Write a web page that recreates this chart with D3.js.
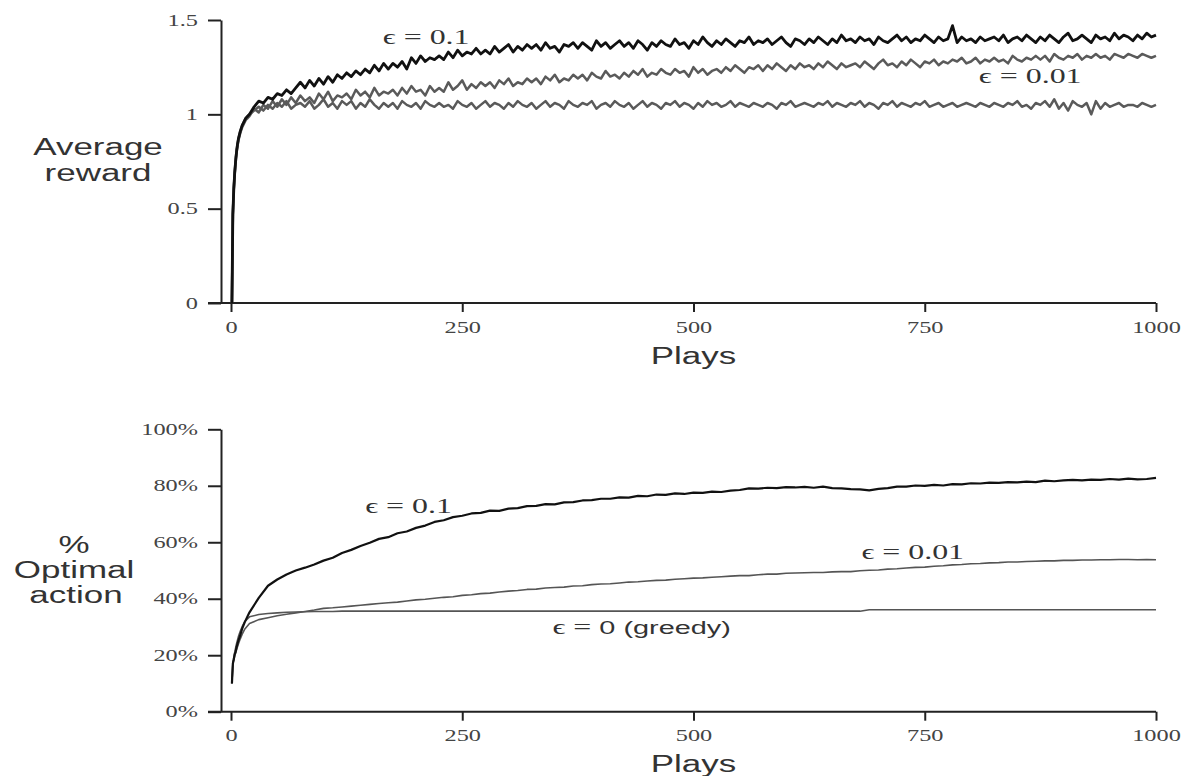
<!DOCTYPE html>
<html>
<head>
<meta charset="utf-8">
<script src="https://cdn.jsdelivr.net/npm/d3@7"></script>
<style>
  body { margin: 0; background: #fff; }
  svg { display: block; }
  .tick line { stroke: #222; stroke-width: 2px; }
  .domain { stroke: #222; stroke-width: 2px; }
  .axis-name { font-family: 'Liberation Sans', Arial, sans-serif; font-size: 23px; fill: #333; }
  .eps { font-family: 'Liberation Serif', 'DejaVu Serif', serif; font-size: 21px; fill: #333; }
  .eps-sans { font-family: 'Liberation Sans', Arial, sans-serif; font-size: 19px; fill: #333; }
</style>
</head>
<body>
<div id="chart"></div>
<script>
// Bandit figure: average reward and % optimal action vs plays

// the original figure is stretched sideways, so its text is wide too
const SX = 1.52;

// Data
const playTicks = [0, 250, 500, 750, 1000];
const rewardTicks = [0, 0.5, 1, 1.5];
const optimalTicks = [0, 20, 40, 60, 80, 100];

// plays sampled for the top panel (dense at the start)
const rewardPlays = [1, 2, 3, 4, 5, 6, 7, 8, 10, 12, 14, 16, 18, 20].concat(d3.range(25, 1001, 5));

const rewardEps01 = [
  0, 0.47, 0.6, 0.69, 0.75, 0.8, 0.84, 0.87, 0.91, 0.94, 0.96, 0.98, 0.99, 1.0,
  1.04, 1.07, 1.06, 1.09, 1.08, 1.11, 1.10, 1.13, 1.11, 1.14,
  1.17, 1.14, 1.18, 1.15, 1.19, 1.16, 1.20, 1.17, 1.21, 1.19,
  1.22, 1.20, 1.23, 1.21, 1.24, 1.22, 1.26, 1.23, 1.27, 1.24,
  1.27, 1.25, 1.28, 1.24, 1.30, 1.27, 1.31, 1.28, 1.30, 1.29,
  1.31, 1.29, 1.33, 1.30, 1.34, 1.31, 1.33, 1.32, 1.35, 1.32,
  1.34, 1.32, 1.36, 1.33, 1.35, 1.37, 1.33, 1.36, 1.34, 1.37,
  1.35, 1.37, 1.34, 1.38, 1.35, 1.36, 1.33, 1.37, 1.36, 1.38,
  1.35, 1.38, 1.36, 1.34, 1.39, 1.36, 1.38, 1.35, 1.37, 1.39,
  1.36, 1.38, 1.35, 1.39, 1.37, 1.34, 1.38, 1.36, 1.39, 1.37,
  1.36, 1.40, 1.37, 1.38, 1.35, 1.39, 1.37, 1.41, 1.38, 1.36,
  1.39, 1.37, 1.40, 1.38, 1.36, 1.39, 1.38, 1.41, 1.37, 1.39,
  1.38, 1.40, 1.37, 1.39, 1.41, 1.38, 1.36, 1.40, 1.39, 1.37,
  1.40, 1.38, 1.41, 1.39, 1.37, 1.40, 1.38, 1.42, 1.39, 1.40,
  1.38, 1.41, 1.39, 1.40, 1.37, 1.41, 1.39, 1.38, 1.40, 1.42,
  1.39, 1.41, 1.38, 1.40, 1.39, 1.42, 1.40, 1.38, 1.41, 1.39,
  1.40, 1.47, 1.38, 1.41, 1.39, 1.40, 1.38, 1.41, 1.39, 1.40,
  1.41, 1.39, 1.42, 1.38, 1.40, 1.41, 1.39, 1.42, 1.40, 1.38,
  1.41, 1.39, 1.42, 1.40, 1.38, 1.41, 1.43, 1.39, 1.40, 1.42,
  1.40, 1.38, 1.42, 1.40, 1.41, 1.39, 1.43, 1.40, 1.42, 1.41,
  1.39, 1.42, 1.40, 1.43, 1.41, 1.42,
];

const rewardEps001 = [
  0, 0.47, 0.6, 0.68, 0.75, 0.8, 0.83, 0.86, 0.9, 0.93, 0.95, 0.97, 0.98, 0.99,
  1.03, 1.01, 1.05, 1.03, 1.07, 1.04, 1.08, 1.05, 1.09, 1.06,
  1.10, 1.07, 1.09, 1.06, 1.11, 1.08, 1.12, 1.07, 1.10, 1.09,
  1.11, 1.08, 1.13, 1.10, 1.12, 1.09, 1.14, 1.10, 1.12, 1.11,
  1.13, 1.10, 1.14, 1.11, 1.15, 1.12, 1.13, 1.10, 1.15, 1.12,
  1.14, 1.12, 1.17, 1.13, 1.15, 1.18, 1.13, 1.16, 1.14, 1.17,
  1.15, 1.17, 1.14, 1.18, 1.16, 1.19, 1.15, 1.17, 1.16, 1.19,
  1.17, 1.19, 1.16, 1.20, 1.18, 1.21, 1.17, 1.19, 1.18, 1.21,
  1.19, 1.21, 1.18, 1.22, 1.20, 1.19, 1.23, 1.20, 1.21, 1.19,
  1.22, 1.20, 1.23, 1.21, 1.24, 1.20, 1.22, 1.21, 1.24, 1.22,
  1.21, 1.24, 1.22, 1.23, 1.20, 1.25, 1.22, 1.24, 1.21, 1.23,
  1.24, 1.22, 1.25, 1.23, 1.26, 1.24, 1.22, 1.25, 1.24, 1.26,
  1.23, 1.26, 1.24, 1.27, 1.25, 1.23, 1.26, 1.24, 1.27, 1.25,
  1.26, 1.24, 1.27, 1.25, 1.28, 1.26, 1.24, 1.27, 1.25, 1.26,
  1.27, 1.25, 1.28, 1.26, 1.24, 1.27, 1.29, 1.26, 1.27, 1.25,
  1.28, 1.26, 1.29, 1.27, 1.25, 1.28, 1.27, 1.29, 1.26, 1.28,
  1.27, 1.29, 1.28, 1.30, 1.27, 1.28, 1.30, 1.27, 1.29, 1.28,
  1.30, 1.28, 1.29, 1.27, 1.31, 1.29, 1.28, 1.30, 1.29, 1.31,
  1.29, 1.31, 1.28, 1.32, 1.30, 1.29, 1.31, 1.30, 1.32, 1.29,
  1.31, 1.30, 1.32, 1.30, 1.31, 1.29, 1.32, 1.31, 1.30, 1.32,
  1.31, 1.30, 1.32, 1.31, 1.30, 1.31,
];

const rewardEps0 = [
  0, 0.46, 0.61, 0.69, 0.76, 0.81, 0.84, 0.87, 0.91, 0.94, 0.96, 0.98, 0.99, 1.0,
  1.02, 1.04, 1.02, 1.05, 1.03, 1.06, 1.04, 1.07, 1.03, 1.05,
  1.06, 1.04, 1.07, 1.03, 1.05, 1.08, 1.04, 1.06, 1.03, 1.07,
  1.05, 1.07, 1.03, 1.06, 1.04, 1.08, 1.05, 1.03, 1.06, 1.04,
  1.06, 1.03, 1.07, 1.05, 1.04, 1.06, 1.03, 1.07, 1.05, 1.04,
  1.06, 1.04, 1.05, 1.03, 1.07, 1.05, 1.04, 1.06, 1.03, 1.05,
  1.07, 1.04, 1.06, 1.05, 1.03, 1.06, 1.04, 1.07, 1.05, 1.04,
  1.06, 1.03, 1.05, 1.07, 1.04, 1.06, 1.05, 1.03, 1.07, 1.05,
  1.04, 1.06, 1.05, 1.07, 1.03, 1.05, 1.06, 1.04, 1.07, 1.05,
  1.04, 1.06, 1.03, 1.05, 1.07, 1.04, 1.06, 1.05, 1.03, 1.06,
  1.05, 1.07, 1.04, 1.06, 1.05, 1.03, 1.06, 1.04, 1.07, 1.05,
  1.06, 1.04, 1.05, 1.07, 1.04, 1.06, 1.05, 1.04, 1.06, 1.05,
  1.04, 1.06, 1.05, 1.03, 1.06, 1.05, 1.07, 1.04, 1.05, 1.06,
  1.05, 1.04, 1.06, 1.05, 1.07, 1.04, 1.06, 1.05, 1.04, 1.06,
  1.05, 1.07, 1.04, 1.06, 1.05, 1.03, 1.06, 1.05, 1.07, 1.04,
  1.06, 1.05, 1.04, 1.06, 1.05, 1.07, 1.04, 1.05, 1.06, 1.04,
  1.05, 1.06, 1.04, 1.05, 1.06, 1.05, 1.04, 1.06, 1.05, 1.04,
  1.06, 1.05, 1.04, 1.06, 1.05, 1.07, 1.04, 1.05, 1.03, 1.06,
  1.05, 1.07, 1.04, 1.08, 1.03, 1.06, 1.02, 1.07, 1.05, 1.04,
  1.06, 1.00, 1.07, 1.03, 1.06, 1.04, 1.05, 1.06, 1.04, 1.05,
  1.05, 1.04, 1.06, 1.05, 1.04, 1.05,
];

// plays sampled for the bottom panel
const optimalPlays = [1, 2, 3, 4, 5, 6, 8, 10, 12, 15].concat(d3.range(20, 1001, 10));

const optimalEps01 = [
  10, 17, 18.5, 20.3, 21.2, 22.8, 25.2, 27.1, 29.3, 31.8,
  35.2, 40.3, 44.6, 46.8, 48.6, 50.0, 51.0, 52.1, 53.5, 54.5,
  56.2, 57.3, 58.7, 59.8, 61.2, 61.8, 63.2, 63.8, 65.1, 65.9,
  67.2, 67.8, 68.9, 69.4, 70.2, 70.4, 71.2, 71.1, 71.9, 72.1,
  72.8, 72.9, 73.5, 73.4, 74.1, 74.2, 74.8, 74.9, 75.4, 75.4,
  75.9, 75.8, 76.4, 76.3, 76.9, 76.8, 77.3, 77.1, 77.6, 77.5,
  77.9, 77.8, 78.3, 78.5, 79.1, 79.0, 79.3, 79.2, 79.5, 79.4,
  79.6, 79.3, 79.7, 79.2, 79.1, 78.8, 78.7, 78.4, 78.9, 79.2,
  79.7, 79.7, 80.1, 80.0, 80.3, 80.1, 80.6, 80.5, 80.9, 80.8,
  81.1, 81.0, 81.3, 81.2, 81.5, 81.3, 81.8, 81.6, 81.9, 82.1,
  81.9, 82.2, 82.1, 82.4, 82.2, 82.5, 82.3, 82.4, 82.8,
];

const optimalEps001 = [
  10, 17, 18.4, 19.8, 20.8, 21.9, 24.0, 25.8, 27.4, 29.3,
  31.2, 32.6, 33.3, 34.0, 34.5, 35.0, 35.5, 36.0, 36.6, 36.8,
  37.1, 37.4, 37.7, 38.0, 38.3, 38.6, 38.8, 39.2, 39.6, 39.8,
  40.2, 40.5, 40.7, 41.2, 41.4, 41.8, 42.0, 42.4, 42.7, 42.9,
  43.3, 43.4, 43.8, 44.0, 44.1, 44.5, 44.6, 45.0, 45.2, 45.3,
  45.6, 45.9, 46.0, 46.3, 46.5, 46.6, 46.9, 47.1, 47.3, 47.4,
  47.6, 47.8, 48.0, 48.2, 48.2, 48.5, 48.7, 48.7, 49.0, 49.1,
  49.2, 49.3, 49.3, 49.5, 49.6, 49.6, 49.9, 50.1, 50.2, 50.5,
  50.6, 50.9, 51.1, 51.2, 51.5, 51.7, 52.0, 52.1, 52.4, 52.5,
  52.7, 52.8, 53.0, 53.0, 53.2, 53.3, 53.4, 53.4, 53.6, 53.6,
  53.7, 53.7, 53.8, 53.8, 53.9, 53.9, 53.8, 53.9, 53.8,
];

const optimalEps0 = [
  10, 17, 19.2, 21.0, 22.6, 24.1, 26.6, 28.5, 30.1, 32.0,
  33.6, 34.4, 34.8, 35.0, 35.2, 35.3, 35.4, 35.5, 35.5, 35.5,
  35.6, 35.6, 35.6, 35.6, 35.6, 35.6, 35.6, 35.6, 35.6, 35.6,
  35.6, 35.6, 35.6, 35.6, 35.6, 35.6, 35.6, 35.6, 35.6, 35.6,
  35.6, 35.6, 35.6, 35.6, 35.6, 35.6, 35.6, 35.6, 35.6, 35.6,
  35.6, 35.6, 35.6, 35.6, 35.6, 35.6, 35.6, 35.6, 35.6, 35.6,
  35.6, 35.6, 35.6, 35.6, 35.6, 35.6, 35.6, 35.6, 35.6, 35.6,
  35.6, 35.6, 35.6, 35.6, 35.6, 35.6, 35.6, 36.1, 36.1, 36.1,
  36.1, 36.1, 36.1, 36.1, 36.1, 36.1, 36.1, 36.1, 36.1, 36.1,
  36.1, 36.1, 36.1, 36.1, 36.1, 36.1, 36.1, 36.1, 36.1, 36.1,
  36.1, 36.1, 36.1, 36.1, 36.1, 36.1, 36.1, 36.1, 36.1,
];

const width = 1187;
const height = 776;

const svg = d3
  .select('#chart')
  .append('svg')
  .attr('width', width)
  .attr('height', height);

const x = d3.scaleLinear().domain([0, 1000]).range([231, 1156]);
const axisX = x(0) - 10; // the y-axis sits a little left of play 0

const toRows = (plays, values) => plays.map((p, i) => ({ play: p, value: values[i] }));

// stretched text, anchored at (px, py)
function addText(g, px, py, str, cls) {
  return g
    .append('text')
    .attr('class', cls)
    .attr('text-anchor', 'middle')
    .attr('transform', `translate(${px},${py}) scale(${SX},1)`)
    .text(str);
}

// serif tick labels, stretched like the rest
function styleTicks(sel) {
  sel
    .style('font-family', "'Liberation Serif', 'Times New Roman', serif")
    .style('font-size', '16px')
    .style('fill', '#444');
}

function drawPanel(opt) {
  const y = d3.scaleLinear().domain(opt.yDomain).range(opt.yRange);
  const g = svg.append('g');

  // y-axis
  const gy = g
    .append('g')
    .attr('transform', `translate(${axisX},0)`)
    .call(
      d3.axisLeft(y)
        .tickValues(opt.yTicks)
        .tickFormat(opt.yFormat)
        .tickSize(13)
        .tickSizeOuter(0),
    );
  gy.selectAll('.tick text')
    .attr('x', -23 / SX)
    .attr('transform', `scale(${SX},1)`)
    .call(styleTicks);

  // x-axis
  const gx = g
    .append('g')
    .attr('transform', `translate(0,${y(opt.yDomain[0])})`)
    .call(
      d3.axisBottom(x)
        .tickValues(playTicks)
        .tickFormat((d) => `${d}`)
        .tickSize(9)
        .tickSizeOuter(0),
    );
  gx.select('.domain').remove();
  gx.append('line')
    .attr('x1', axisX - 13)
    .attr('x2', x(1000))
    .attr('stroke', '#222')
    .attr('stroke-width', 2);
  gx.selectAll('.tick text')
    .attr('y', opt.tickLabelY)
    .attr('transform', `scale(${SX},1)`)
    .call(styleTicks);

  // x-axis name
  addText(g, x(500), y(opt.yDomain[0]) + opt.playsY, 'Plays', 'axis-name');

  // y-axis name, one line per row
  opt.title.forEach((t) => addText(g, t.x, t.y, t.text, 'axis-name'));

  const line = d3
    .line()
    .defined((d) => d.value != null)
    .x((d) => x(d.play))
    .y((d) => y(d.value));

  opt.series.forEach((s) => {
    g.append('path')
      .datum(toRows(opt.plays, s.values))
      .attr('fill', 'none')
      .attr('stroke', s.color)
      .attr('stroke-width', s.width)
      .attr('stroke-linejoin', 'round')
      .attr('d', line);
  });

  // curve labels
  opt.labels.forEach((l) => {
    const t = g
      .append('text')
      .attr('class', 'eps')
      .attr('text-anchor', 'middle')
      .attr('transform', `translate(${x(l.play)},${y(l.value)}) scale(${SX},1)`);
    t.append('tspan').text('\u03f5 = ');
    t.append('tspan').attr('class', l.sans ? 'eps-sans' : null).text(l.text);
  });
}

// top panel: average reward
drawPanel({
  yDomain: [0, 1.5],
  yRange: [303, 20],
  yTicks: rewardTicks,
  yFormat: (d) => d,
  tickLabelY: 19,
  playsY: 61,
  plays: rewardPlays,
  title: [
    { text: 'Average', x: 98, y: 155 },
    { text: 'reward', x: 98, y: 181 },
  ],
  series: [
    { values: rewardEps0, color: '#5a5a5a', width: 2.5 },
    { values: rewardEps001, color: '#5a5a5a', width: 2.5 },
    { values: rewardEps01, color: '#111', width: 2.8 },
  ],
  labels: [
    { text: '0.1', play: 211, value: 1.375 },
    { text: '0.01', play: 864, value: 1.168 },
  ],
});

// bottom panel: % optimal action
drawPanel({
  yDomain: [0, 100],
  yRange: [711.7, 429.3],
  yTicks: optimalTicks,
  yFormat: (d) => `${d}%`,
  tickLabelY: 18,
  playsY: 60,
  plays: optimalPlays,
  title: [
    { text: '%', x: 74, y: 553 },
    { text: 'Optimal', x: 74, y: 578 },
    { text: 'action', x: 76, y: 603 },
  ],
  series: [
    { values: optimalEps0, color: '#555', width: 1.6 },
    { values: optimalEps001, color: '#555', width: 1.6 },
    { values: optimalEps01, color: '#111', width: 2.2 },
  ],
  labels: [
    { text: '0.1', play: 192, value: 70.2 },
    { text: '0.01', play: 737, value: 53.9 },
    { text: '0 (greedy)', play: 444, value: 27.5, sans: true },
  ],
});
</script>
</body>
</html>
